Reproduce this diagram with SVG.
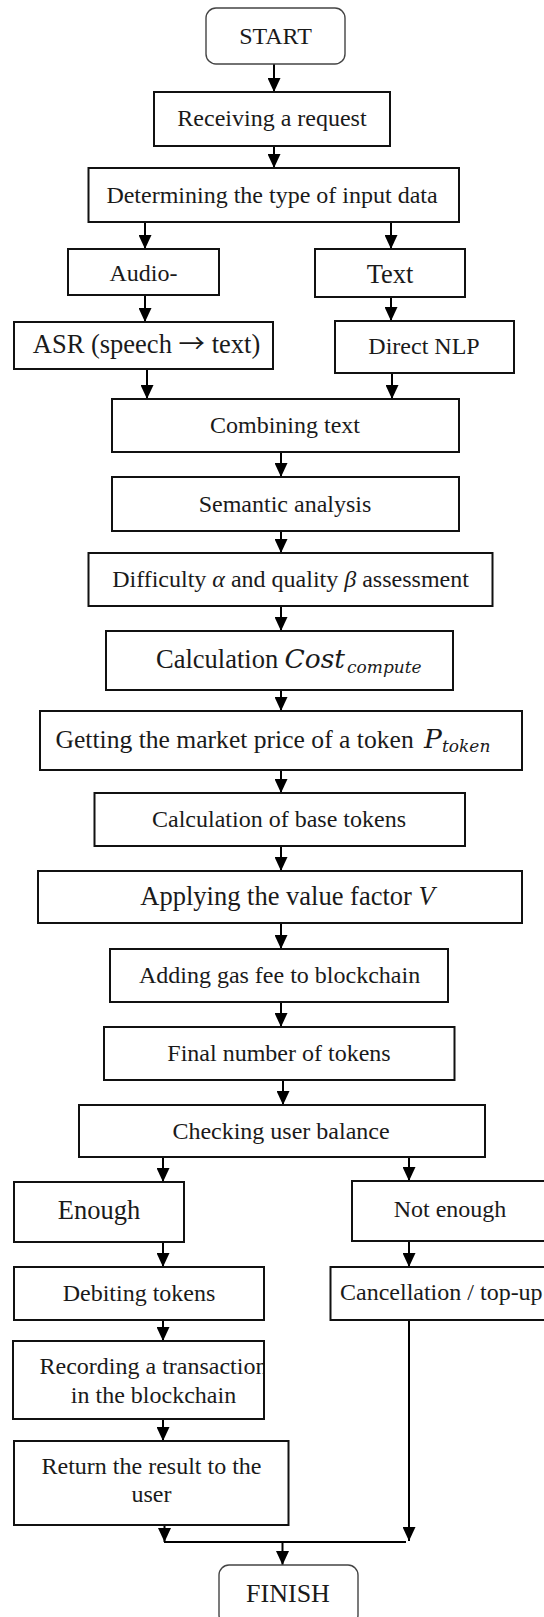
<svg xmlns="http://www.w3.org/2000/svg" width="544" height="1617" viewBox="0 0 544 1617">
<style>
.box{fill:#fff;stroke:#111;stroke-width:2}
.term{fill:#fff;stroke:#444;stroke-width:1.4}
.t{font-family:"Liberation Serif","Times New Roman",serif;font-size:24px;fill:#1a1a1a;text-anchor:middle}
.L{font-size:26.5px}
.s{text-anchor:start}
.m{font-family:"DejaVu Serif","Liberation Serif",serif;font-style:italic}
.mi{font-style:italic}
.sub{font-family:"DejaVu Serif","Liberation Serif",serif;font-style:italic;font-size:17px}
.arr{font-family:"Noto Sans CJK SC","Liberation Serif",sans-serif}
.c{fill:none;stroke:#000;stroke-width:2}
</style>
<defs>
<marker id="ah" viewBox="0 0 14 13" refX="14" refY="6.5" markerWidth="14" markerHeight="13" markerUnits="userSpaceOnUse" orient="auto">
<path d="M0,0 L14,6.5 L0,13 Z" fill="#000"/>
</marker>
<clipPath id="recClip"><rect x="13" y="1341" width="250" height="78"/></clipPath>
</defs>
<rect width="544" height="1617" fill="#fff"/>
<g id="connectors">
<line class="c" x1="274" y1="64" x2="274" y2="92" marker-end="url(#ah)"/>
<line class="c" x1="274" y1="146" x2="274" y2="168" marker-end="url(#ah)"/>
<line class="c" x1="145" y1="222" x2="145" y2="249" marker-end="url(#ah)"/>
<line class="c" x1="391" y1="222" x2="391" y2="249" marker-end="url(#ah)"/>
<line class="c" x1="145" y1="295" x2="145" y2="322" marker-end="url(#ah)"/>
<line class="c" x1="391" y1="297" x2="391" y2="321" marker-end="url(#ah)"/>
<line class="c" x1="147" y1="369" x2="147" y2="399" marker-end="url(#ah)"/>
<line class="c" x1="392" y1="373" x2="392" y2="399" marker-end="url(#ah)"/>
<line class="c" x1="281" y1="452" x2="281" y2="477" marker-end="url(#ah)"/>
<line class="c" x1="281" y1="531" x2="281" y2="553" marker-end="url(#ah)"/>
<line class="c" x1="281" y1="606" x2="281" y2="631" marker-end="url(#ah)"/>
<line class="c" x1="281" y1="690" x2="281" y2="711" marker-end="url(#ah)"/>
<line class="c" x1="281" y1="770" x2="281" y2="793" marker-end="url(#ah)"/>
<line class="c" x1="281" y1="846" x2="281" y2="871" marker-end="url(#ah)"/>
<line class="c" x1="281" y1="923" x2="281" y2="949" marker-end="url(#ah)"/>
<line class="c" x1="281" y1="1002" x2="281" y2="1027" marker-end="url(#ah)"/>
<line class="c" x1="283" y1="1080" x2="283" y2="1105" marker-end="url(#ah)"/>
<line class="c" x1="163" y1="1157" x2="163" y2="1182" marker-end="url(#ah)"/>
<line class="c" x1="409" y1="1157" x2="409" y2="1181" marker-end="url(#ah)"/>
<line class="c" x1="163" y1="1242" x2="163" y2="1267" marker-end="url(#ah)"/>
<line class="c" x1="409" y1="1241" x2="409" y2="1267" marker-end="url(#ah)"/>
<line class="c" x1="163" y1="1320" x2="163" y2="1341" marker-end="url(#ah)"/>
<line class="c" x1="163" y1="1419" x2="163" y2="1441" marker-end="url(#ah)"/>
<line class="c" x1="164.5" y1="1525" x2="164.5" y2="1542" marker-end="url(#ah)"/>
<line class="c" x1="409" y1="1320" x2="409" y2="1541" marker-end="url(#ah)"/>
<line class="c" x1="164" y1="1542" x2="406" y2="1542"/>
<line class="c" x1="282.5" y1="1542" x2="282.5" y2="1565" marker-end="url(#ah)"/>
</g>
<g id="start"><rect class="term" x="206" y="8" width="139" height="56" rx="10"/><text class="t" x="275.5" y="43.5">START</text></g>
<g id="receiving"><rect class="box" x="154" y="92" width="236" height="54"/><text class="t" x="272" y="126">Receiving a request</text></g>
<g id="determining"><rect class="box" x="88.5" y="168" width="370.5" height="54"/><text class="t" x="272" y="202.5">Determining the type of input data</text></g>
<g id="audio"><rect class="box" x="68" y="249" width="151" height="46"/><text class="t" x="143.5" y="280.5">Audio-</text></g>
<g id="text"><rect class="box" x="315" y="249" width="150" height="48"/><text class="t L" x="390" y="282.5">Text</text></g>
<g id="asr"><rect class="box" x="14" y="322" width="259" height="47"/><text class="t L" x="146.5" y="353">ASR (speech <tspan class="arr">→</tspan> text)</text></g>
<g id="nlp"><rect class="box" x="335" y="321" width="179" height="52"/><text class="t" x="424" y="354">Direct NLP</text></g>
<g id="combining"><rect class="box" x="112" y="399" width="347" height="53"/><text class="t" x="285" y="433">Combining text</text></g>
<g id="semantic"><rect class="box" x="112" y="477" width="347" height="54"/><text class="t" x="285" y="511.5">Semantic analysis</text></g>
<g id="difficulty"><rect class="box" x="88.5" y="553" width="404" height="53"/><text class="t" x="290.5" y="587">Difficulty <tspan class="mi">α</tspan> and quality <tspan class="mi">β</tspan> assessment</text></g>
<g id="cost"><rect class="box" x="106" y="631" width="347" height="59"/><text class="t L s" x="156" y="668">Calculation <tspan class="m" x="284.5">Cost</tspan><tspan class="sub" x="347" dy="5">compute</tspan></text></g>
<g id="price"><rect class="box" x="40" y="711" width="482" height="59"/><text class="t L s" x="55.5" y="748" style="font-size:25.6px">Getting the market price of a token <tspan class="m" x="424" style="font-size:26.5px">P</tspan><tspan class="sub" x="442" dy="4">token</tspan></text></g>
<g id="base"><rect class="box" x="94.5" y="793" width="370.5" height="53"/><text class="t" x="279" y="827">Calculation of base tokens</text></g>
<g id="value"><rect class="box" x="38" y="871" width="484" height="52"/><text class="t L" x="287.5" y="905">Applying the value factor <tspan class="mi">V</tspan></text></g>
<g id="gas"><rect class="box" x="110" y="949" width="338" height="53"/><text class="t" x="279.5" y="983">Adding gas fee to blockchain</text></g>
<g id="final"><rect class="box" x="104" y="1027" width="350.5" height="53"/><text class="t" x="279" y="1061">Final number of tokens</text></g>
<g id="checking"><rect class="box" x="79" y="1105" width="406" height="52"/><text class="t" x="281" y="1138.5">Checking user balance</text></g>
<g id="enough"><rect class="box" x="14" y="1182" width="170" height="60"/><text class="t L" x="99" y="1219">Enough</text></g>
<g id="notenough"><rect class="box" x="352" y="1181" width="196" height="60"/><text class="t" x="450" y="1217">Not enough</text></g>
<g id="debiting"><rect class="box" x="14" y="1267" width="250" height="53"/><text class="t" x="139" y="1301">Debiting tokens</text></g>
<g id="cancel"><rect class="box" x="330.5" y="1267" width="218" height="53"/><text class="t s" x="340" y="1300">Cancellation / top-up</text></g>
<g id="recording"><rect class="box" x="13" y="1341" width="251" height="78"/><text class="t" clip-path="url(#recClip)" x="153.5" y="1373.5">Recording a transaction</text><text class="t" x="153.5" y="1403">in the blockchain</text></g>
<g id="return"><rect class="box" x="14" y="1441" width="274.5" height="84"/><text class="t" x="151.5" y="1473.5">Return the result to the</text><text class="t" x="151.5" y="1502">user</text></g>
<g id="finish"><rect class="term" x="219" y="1565" width="139" height="60" rx="10"/><text class="t" x="288" y="1601.5" style="font-size:26px">FINISH</text></g>
</svg>
